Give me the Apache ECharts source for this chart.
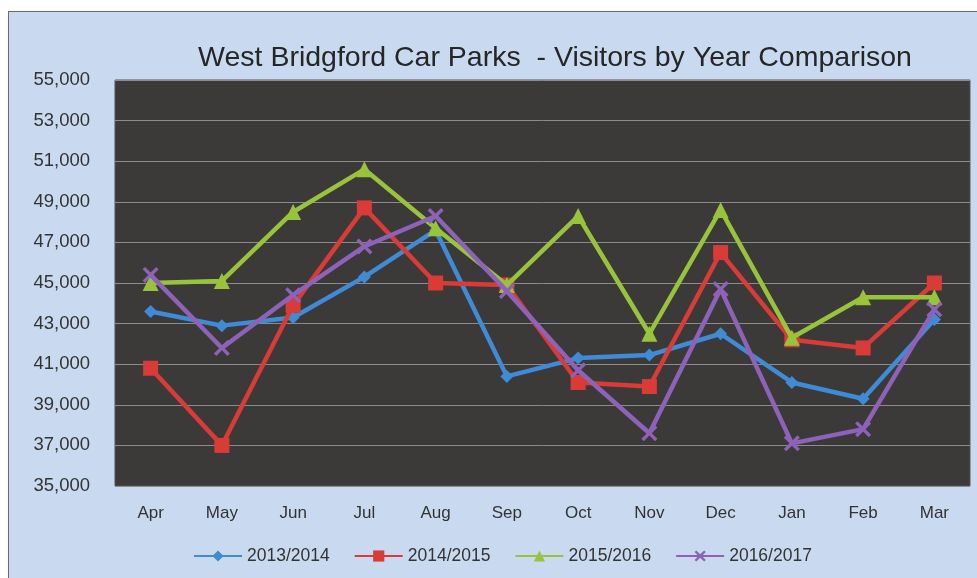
<!DOCTYPE html>
<html>
<head>
<meta charset="utf-8">
<script src="https://cdn.jsdelivr.net/npm/echarts@6/dist/echarts.min.js"></script>
<style>
html,body{margin:0;padding:0;background:#ffffff;width:977px;height:578px;overflow:hidden;}
#frame{position:absolute;left:8px;top:11px;width:975px;height:575px;background:#c9daf0;border-left:1px solid #6d6d6d;border-top:1px solid #6d6d6d;}
#chart{position:absolute;left:0;top:0;width:977px;height:578px;}
</style>
</head>
<body>
<div id="frame"></div>
<div id="chart"></div>
<script>
const categories = ['Apr','May','Jun','Jul','Aug','Sep','Oct','Nov','Dec','Jan','Feb','Mar'];
const seriesNames = ['2013/2014','2014/2015','2015/2016','2016/2017'];
const v2013 = [43600, 42900, 43300, 45300, 47600, 40400, 41300, 41450, 42500, 40100, 39300, 43200];
const v2014 = [40800, 37000, 43900, 48700, 45000, 44900, 40100, 39900, 46500, 42200, 41800, 45000];
const v2015 = [45000, 45100, 48500, 50600, 47700, 44900, 48300, 42500, 48600, 42300, 44300, 44300];
const v2016 = [45400, 41800, 44400, 46800, 48300, 44600, 40700, 37600, 44700, 37100, 37800, 43700];
const yMin = 35000, yMax = 55000, yStep = 2000;

const colors = ['#3f8bd6', '#d93b36', '#98c43c', '#8d62b8'];
const xPath = 'path://M0,1.5 L1.5,0 L5,3.5 L8.5,0 L10,1.5 L6.5,5 L10,8.5 L8.5,10 L5,6.5 L1.5,10 L0,8.5 L3.5,5 Z';
const symbols = ['diamond', 'rect', 'triangle', xPath];
const symbolSizes = [13, 15, 16, 16];
const dataSets = [v2013, v2014, v2015, v2016];
const font = 'Liberation Sans';

const chart = echarts.init(document.getElementById('chart'));
chart.setOption({
  backgroundColor: 'transparent',
  animation: false,
  color: colors,
  title: {
    text: 'West Bridgford Car Parks  - Visitors by Year Comparison',
    left: 550, top: 39, textAlign: 'center',
    textStyle: {fontFamily: font, fontSize: 28.5, fontWeight: 'normal', color: '#262626'}
  },
  legend: {
    data: seriesNames,
    left: 188, top: 542,
    itemWidth: 48, itemHeight: 14, itemGap: 24,
    textStyle: {fontFamily: font, fontSize: 17.5, color: '#333'}
  },
  grid: {left: 115, right: 7, top: 80, bottom: 92, show: true, backgroundColor: '#3b3a39', borderColor: '#555', borderWidth: 1},
  xAxis: {
    type: 'category', data: categories, boundaryGap: true,
    axisLine: {show: false}, axisTick: {show: false},
    axisLabel: {fontFamily: font, fontSize: 17, color: '#333', margin: 19}
  },
  yAxis: {
    type: 'value', min: yMin, max: yMax, interval: yStep,
    axisLine: {show: false}, axisTick: {show: false},
    splitLine: {lineStyle: {color: '#8c8c8c', width: 1}},
    axisLabel: {fontFamily: font, fontSize: 18.5, color: '#333', margin: 25,
      formatter: v => v.toLocaleString('en-US')}
  },
  series: dataSets.map((d, i) => ({
    name: seriesNames[i], type: 'line', data: d,
    symbol: symbols[i], symbolSize: symbolSizes[i],
    lineStyle: {width: 4.5, color: colors[i]},
    itemStyle: {color: colors[i]},
    z: 2 + i
  }))
});
</script>
</body>
</html>
